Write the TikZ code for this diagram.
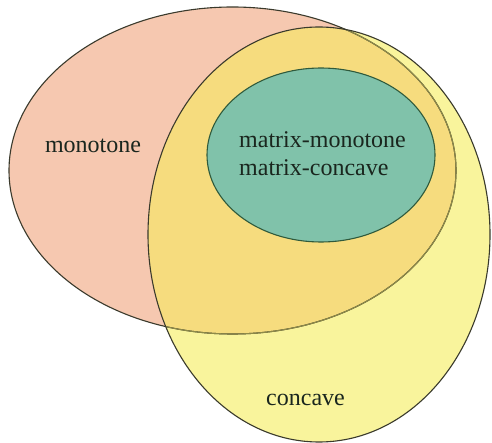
\documentclass[tikz,border=0pt]{standalone}
\usepackage{fontspec}
\setmainfont{Liberation Serif}
\newfontfamily\lblfont{Liberation Serif}
\definecolor{pinkc}{HTML}{F6C8B0}
\definecolor{yellowc}{HTML}{F9F49C}
\definecolor{goldc}{HTML}{F6DC7E}
\definecolor{greenc}{HTML}{80C2AA}
\definecolor{edgec}{HTML}{3A3A2C}
\definecolor{oliveedge}{HTML}{8E8A48}
\definecolor{greenedge}{HTML}{2F5A3C}
\definecolor{textc}{HTML}{1A261E}
\tikzset{
  lbl/.style={font=\lblfont\fontsize{24}{27}\selectfont, text=textc, inner sep=0pt},
  edge/.style={draw=edgec, line width=1.1pt}
}
\begin{document}
\begin{tikzpicture}[x=1pt,y=-1pt]
\useasboundingbox[fill=white] (0,0) rectangle (492,443);
\def\pinkE{(232.5,170.5) ellipse [x radius=223.5pt, y radius=163.5pt]}
\def\yelE{(319,234.5) ellipse [x radius=171pt, y radius=207.5pt]}
\def\grnE{(321,155) ellipse [x radius=114pt, y radius=87pt]}
% fills
\fill[pinkc] \pinkE;
\fill[yellowc] \yelE;
\begin{scope}
  \clip \pinkE;
  \fill[goldc] \yelE;
\end{scope}
% pink outline: dark outside yellow, olive inside
\draw[edge] \pinkE;
\begin{scope}
  \clip \yelE;
  \draw[draw=oliveedge, line width=1.1pt] \pinkE;
\end{scope}
\draw[edge] \yelE;
% green
\fill[greenc] \grnE;
\draw[draw=greenedge, line width=1.1pt] \grnE;
% labels
\node[lbl] (mono) at (93,146) {monotone};
\node[lbl, align=left, anchor=west] (matrix) at (239,154) {matrix-monotone\\[1pt]matrix-concave};
\node[lbl] (conc) at (305.5,400) {concave};
\end{tikzpicture}
\end{document}
